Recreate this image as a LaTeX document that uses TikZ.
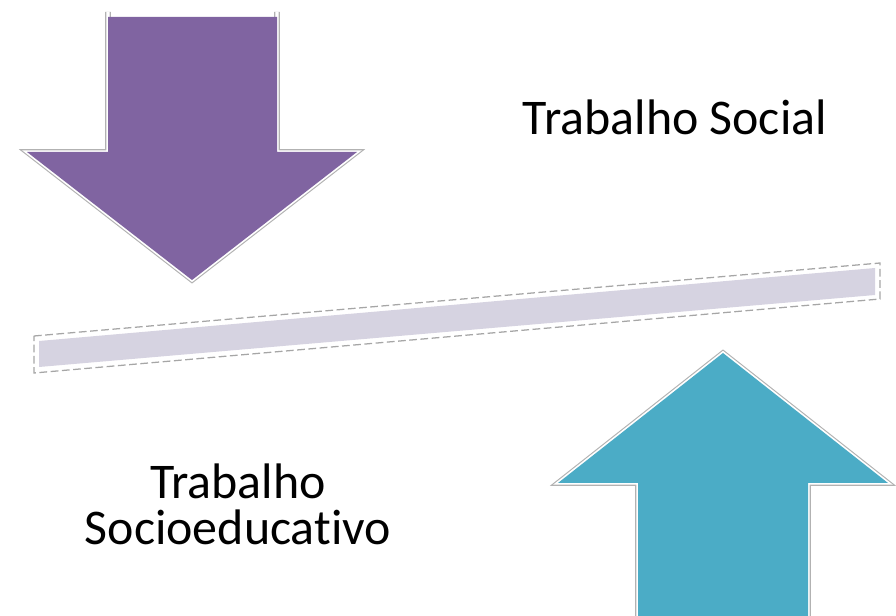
\documentclass[tikz,border=0pt]{standalone}
\usepackage{fontspec}
\setmainfont{Carlito}[Ligatures=NoCommon]
\usetikzlibrary{calc}

\definecolor{arrowpurple}{RGB}{128,100,161}
\definecolor{arrowblue}{RGB}{75,172,198}
\definecolor{barlilac}{RGB}{214,211,225}

\begin{document}
\begin{tikzpicture}[x=0.025cm, y=-0.025cm,
    rimgray/.style={draw=gray!60, line width=4pt, line join=miter},
    rimwhite/.style={draw=white, line width=2.4pt, line join=miter},
    caption/.style={font=\fontsize{35.5pt}{32.5pt}\selectfont, align=center, inner sep=0pt}]
      \useasboundingbox (0,0) rectangle (896,616);
      \begin{scope}
        \draw[rimgray] (108,12)--(108,152)--(27,152)--(192,280)--(357,152)--(277,152)--(277,12);
        \draw[rimwhite] (108,12)--(108,152)--(27,152)--(192,280)--(357,152)--(277,152)--(277,12);
        \fill[arrowpurple] (108,17)--(108,152)--(27,152)--(192,280)--(357,152)--(277,152)--(277,17)--cycle;
      \end{scope}
      \begin{scope}
        \draw[gray!70, line width=0.9pt, dash pattern=on 5.5pt off 2.5pt] (34,336)--(880,263)--(880,299)--(34,373)--cycle;
        \fill[barlilac] (39,341)--(875,268)--(875,295)--(39,367)--cycle;
      \end{scope}
      \begin{scope}
        \draw[rimgray] (638,620)--(638,483)--(558,483)--(723,353)--(888,483)--(808,483)--(808,620);
        \draw[rimwhite] (638,620)--(638,483)--(558,483)--(723,353)--(888,483)--(808,483)--(808,620);
        \fill[arrowblue] (638,616)--(638,483)--(558,483)--(723,353)--(888,483)--(808,483)--(808,616)--cycle;
      \end{scope}

      \node[caption, anchor=base] (social) at (675,135) {Trabalho Social};
      \node[caption, anchor=base] (socioeducativo) at (238,544) {Trabalho\\Socioeducativo};
\end{tikzpicture}
\end{document}
